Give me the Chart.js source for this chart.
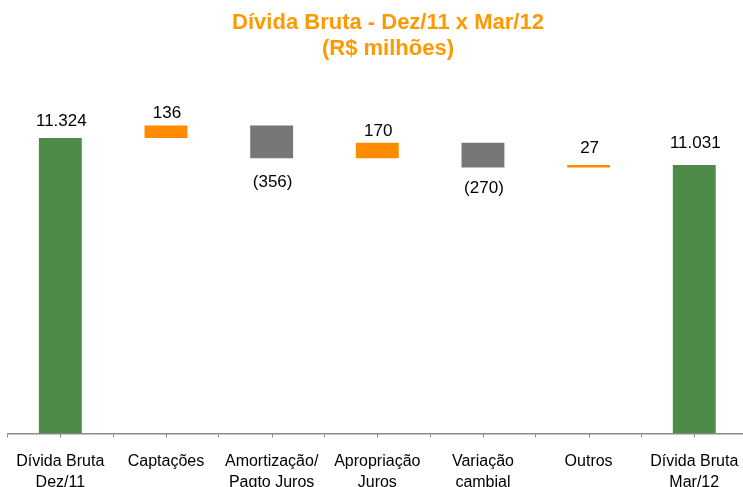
<!DOCTYPE html>
<html>
<head>
<meta charset="utf-8">
<script src="https://cdn.jsdelivr.net/npm/chart.js@4/dist/chart.umd.min.js"></script>
<style>
  html, body { margin: 0; padding: 0; background: #fff; overflow: hidden; }
  #wrap { width: 743px; height: 487px; overflow: hidden; }
</style>
</head>
<body>
<div id="wrap"><canvas id="chart" width="752" height="487"></canvas></div>
<script>
  const categories = [
    ['Dívida Bruta', 'Dez/11'],
    'Captações',
    ['Amortização/', 'Pagto Juros'],
    ['Apropriação', 'Juros'],
    ['Variação', 'cambial'],
    'Outros',
    ['Dívida Bruta', 'Mar/12'],
  ];
  const openingDebt = 11324;
  const movements = [136, -356, 170, -270, 27];
  const closingDebt = 11031;
  const axisMin = 8120;
  const axisMax = 12000;

  const COLORS = { total: '#4E8B48', up: '#FF8C00', down: '#777777' };

  // build floating bars: totals from the axis, movements from the running sum
  const ranges = [[axisMin, openingDebt]];
  const values = [openingDebt];
  const kinds = ['total'];
  let running = openingDebt;
  movements.forEach((m) => {
    ranges.push([running, running + m]);
    values.push(m);
    kinds.push(m >= 0 ? 'up' : 'down');
    running += m;
  });
  ranges.push([axisMin, closingDebt]);
  values.push(closingDebt);
  kinds.push('total');

  // distance (px) from bar edge to label baseline
  const labelGap = [12, 7, 29, 7, 25, 12, 17];

  function fmt(v) {
    const s = Math.abs(v).toString().replace(/\B(?=(\d{3})+(?!\d))/g, '.');
    return v < 0 ? `(${s})` : s;
  }

  const FONT = "'Liberation Sans', Arial, sans-serif";

  const titlePlugin = {
    id: 'titleText',
    afterDraw(chart) {
      const ctx = chart.ctx;
      ctx.save();
      ctx.fillStyle = '#FF9900';
      ctx.font = `bold 22px ${FONT}`;
      ctx.textAlign = 'center';
      ctx.textBaseline = 'alphabetic';
      ctx.fillText('Dívida Bruta - Dez/11 x Mar/12', 388, 29);
      ctx.fillText('(R$ milhões)', 388, 55);
      ctx.restore();
    },
  };

  const labelsPlugin = {
    id: 'barLabels',
    afterDatasetsDraw(chart) {
      const ctx = chart.ctx;
      const meta = chart.getDatasetMeta(0);
      ctx.save();
      ctx.fillStyle = '#000';
      ctx.font = `17px ${FONT}`;
      ctx.textAlign = 'center';
      ctx.textBaseline = 'alphabetic';
      meta.data.forEach((bar, i) => {
        const top = Math.min(bar.y, bar.base);
        const bottom = Math.max(bar.y, bar.base);
        const y = values[i] < 0 ? bottom + labelGap[i] : top - labelGap[i];
        ctx.fillText(fmt(values[i]), bar.x + 1, y);
      });
      ctx.restore();
    },
  };

  // minor tick marks under the centre of each category
  const centerTicks = {
    id: 'centerTicks',
    afterDraw(chart) {
      const ctx = chart.ctx;
      const x = chart.scales.x;
      ctx.save();
      ctx.strokeStyle = '#8C8C8C';
      ctx.lineWidth = 1;
      categories.forEach((c, i) => {
        const px = Math.round(x.getPixelForValue(i)) + 0.5;
        ctx.beginPath();
        ctx.moveTo(px, x.top);
        ctx.lineTo(px, x.top + 4);
        ctx.stroke();
      });
      ctx.restore();
    },
  };

  new Chart(document.getElementById('chart'), {
    type: 'bar',
    data: {
      labels: categories,
      datasets: [{
        data: ranges,
        backgroundColor: kinds.map((k) => COLORS[k]),
        borderWidth: 0,
        barPercentage: 0.406,
        categoryPercentage: 1,
      }],
    },
    options: {
      responsive: false,
      animation: false,
      devicePixelRatio: 1,
      layout: { padding: { left: 7.5, right: 3, top: 75.7, bottom: 0 } },
      plugins: { legend: { display: false }, title: { display: false }, tooltip: { enabled: false } },
      scales: {
        y: { display: false, min: axisMin, max: axisMax },
        x: {
          afterFit: (axis) => { axis.height = 53.5; },
          border: { color: '#8C8C8C', width: 1.5 },
          grid: { drawOnChartArea: false, drawTicks: true, tickLength: 4, color: '#8C8C8C', offset: true },
          ticks: {
            color: '#000',
            padding: 13.5,
            maxRotation: 0,
            autoSkip: false,
            font: { family: FONT, size: 16, lineHeight: 1.3 },
          },
        },
      },
    },
    plugins: [titlePlugin, labelsPlugin, centerTicks],
  });
</script>
</body>
</html>
